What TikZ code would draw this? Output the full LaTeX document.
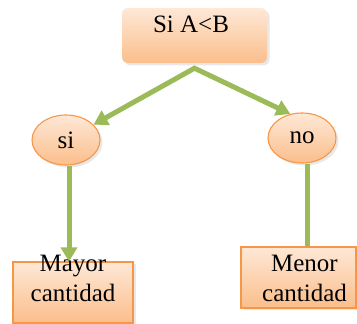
\documentclass[tikz,border=0pt]{standalone}
\usepackage{fontspec}
\setmainfont{Liberation Serif}
\usetikzlibrary{arrows.meta,shapes.geometric,shadows}
\definecolor{lgreen}{RGB}{155,187,89}
\definecolor{oborder}{RGB}{247,150,70}
\definecolor{ftop}{RGB}{254,232,214}
\definecolor{fbot}{RGB}{251,190,140}
\providecommand\lbl{\fontsize{25}{30}\selectfont}
\begin{document}
\begin{tikzpicture}[x=1pt,y=1pt,
  orfill/.style={top color=ftop, bottom color=fbot,
    drop shadow={opacity=0.18, shadow xshift=2.5pt, shadow yshift=-2.5pt}},
  topbox/.style={orfill, rectangle, rounded corners=6pt, draw=none,
    minimum width=145pt, minimum height=55pt, inner sep=0pt},
  ellbox/.style={orfill, ellipse, draw=oborder, line width=1.1pt,
    minimum width=68pt, minimum height=50pt, inner sep=0pt, font=\lbl},
  resbox/.style={orfill, rectangle, draw=oborder, line width=1.1pt,
    minimum height=61pt, inner sep=0pt},
  lbltext/.style={inner sep=0pt, align=center, font=\lbl},
  gline/.style={draw=lgreen, line width=5pt},
  gtip/.style={arrows={-Triangle[length=14pt,width=16pt]}},
  gtips/.style={arrows={Triangle[length=14pt,width=16pt]-Triangle[length=14pt,width=16pt]}}
]
\useasboundingbox (0,0) rectangle (357,324);

\node[topbox] (cond) at (194.5,288.5) {};
\node[lbltext, anchor=base] (condT) at (191,291) {Si A<B};
\coordinate (split) at ([yshift=-5pt]cond.south);

\node[ellbox] (si) at (66,184) {si};
\node[ellbox] (no) at (302,186) {no};

\node[resbox, minimum width=120pt] (mayor) at (73,31.5) {};
\node[lbltext] (mayorT) at (73,45.25) {Mayor\\cantidad};

\node[resbox, minimum width=115pt] (menor) at (298.5,46.5) {};
\node[lbltext] (menorT) at (304.5,45.25) {Menor\\cantidad};

\draw[gline, gtips] (si) -- (split) -- (no.116);
\draw[gline, gtip] ([xshift=3pt]si.south) -- ([xshift=3pt]si.south |- mayor.north);
\draw[gline] ([xshift=5pt]no.south) -- ([xshift=5pt]no.south |- menor.north);
\end{tikzpicture}
\end{document}
